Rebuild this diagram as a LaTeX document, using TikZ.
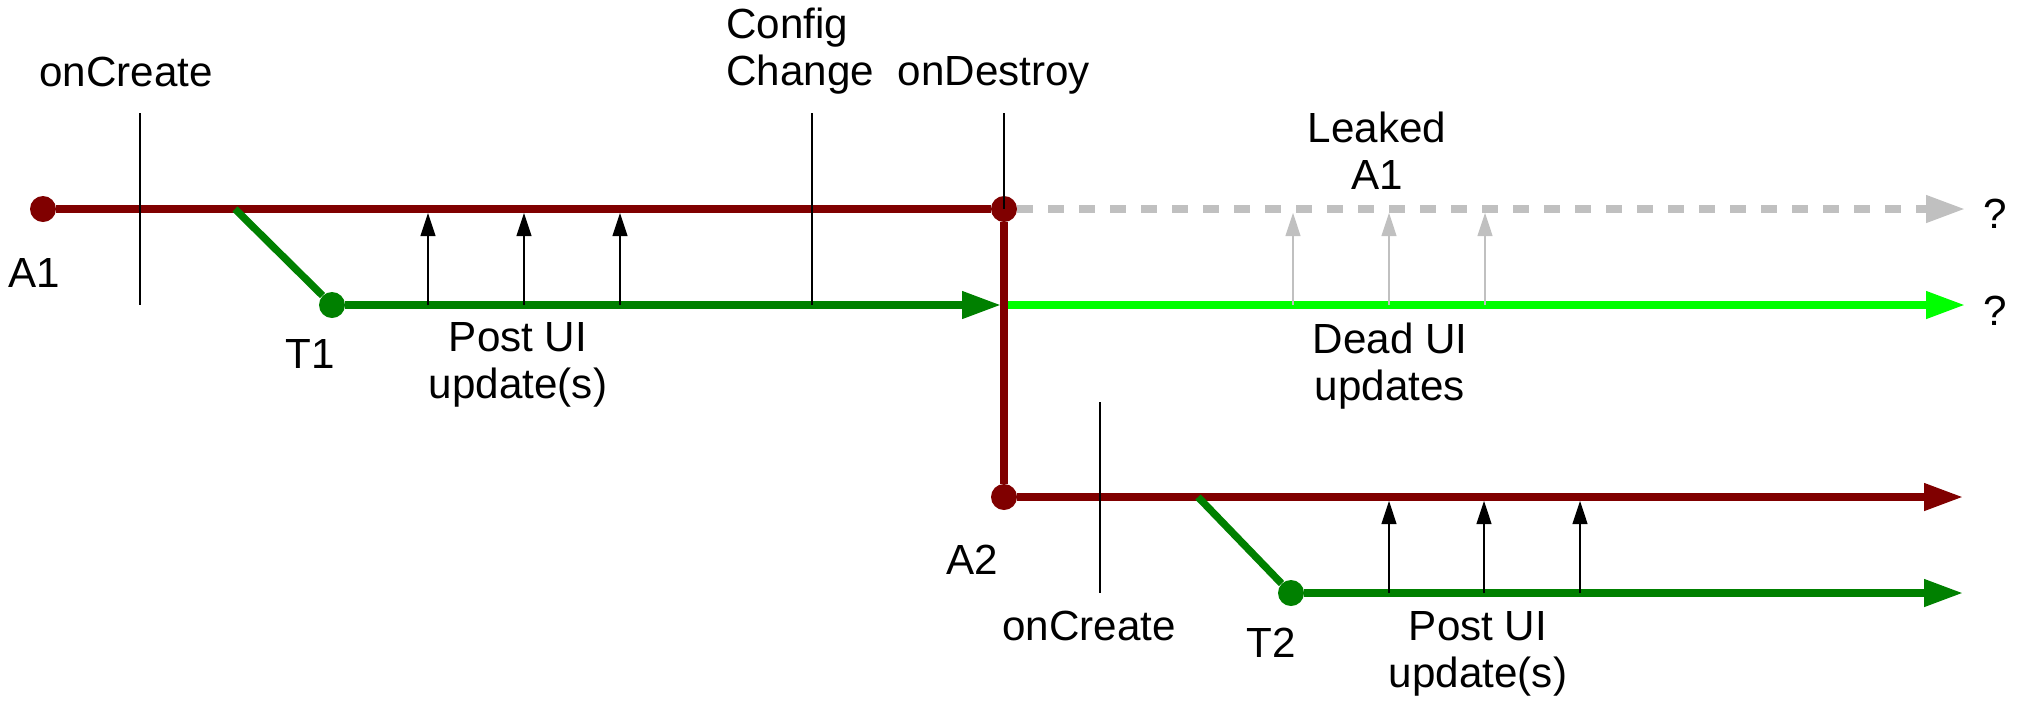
\documentclass[tikz,border=0pt]{standalone}
\usepackage{fontspec}
\setmainfont{Liberation Sans}
\usetikzlibrary{arrows.meta}
\definecolor{dred}{HTML}{800000}
\definecolor{dgreen}{HTML}{008000}
\definecolor{lgreen}{HTML}{00FF00}
\definecolor{lgray}{HTML}{C0C0C0}
\begin{document}
\begin{tikzpicture}[x=0.02cm,y=-0.02cm,
  lbl/.style={font=\fontsize{24}{26.7}\selectfont, inner sep=0, anchor=base, align=center},
  dot/.style={circle, fill=#1, minimum size=0.52cm, inner sep=0},
  thick line/.style={line width=4.2pt, draw=#1},
  bigtip/.style={-{Triangle[length=0.78cm,width=0.52cm]}},
  tick/.style={line width=0.6pt, draw=black},
  post/.style={line width=0.6pt, draw=#1, -{Triangle[length=0.46cm,width=0.3cm]}},
]
\useasboundingbox (0,0) rectangle (2020,701);

% thin vertical event markers
\coordinate (c1t) at (140,113); \coordinate (c1b) at (140,305);
\coordinate (cct) at (812,113); \coordinate (ccb) at (812,305);
\coordinate (dt) at (1004,113); \coordinate (db) at (1004,209);
\coordinate (c2t) at (1100,402); \coordinate (c2b) at (1100,593);

% dots
\node[dot=dred] (A1dot) at (43,209) {};
\node[dot=dred] (D1dot) at (1004,209) {};
\node[dot=dred] (A2dot) at (1004,497) {};
\node[dot=dgreen] (T1dot) at (332,305) {};
\node[dot=dgreen] (T2dot) at (1291,593) {};

% coordinates
\coordinate (fork1) at (235,209);
\coordinate (fork2) at (1198,497);
\coordinate (t1end) at (1001,305);
\coordinate (deadstart) at (1008,305);
\coordinate (deadend) at (1965,305);
\coordinate (leakend) at (1965,209);
\coordinate (a2end) at (1963,497);
\coordinate (t2end) at (1963,593);

% post arrows coordinates
\foreach \x/\n in {428/p1,524/p2,620/p3}{
  \coordinate (\n b) at (\x,305); \coordinate (\n t) at (\x,213);}
\foreach \x/\n in {1293/g1,1389/g2,1485/g3}{
  \coordinate (\n b) at (\x,305); \coordinate (\n t) at (\x,213);}
\foreach \x/\n in {1389/q1,1484/q2,1580/q3}{
  \coordinate (\n b) at (\x,593); \coordinate (\n t) at (\x,501);}

% main lines
\draw[thick line=dred] (A1dot) -- (D1dot);
\draw[thick line=lgray, dash pattern=on 0.32cm off 0.3cm, bigtip] (D1dot.east) -- (leakend);
\draw[thick line=dgreen] (fork1) -- (T1dot.north west);
\draw[thick line=dgreen, bigtip] (T1dot) -- (t1end);
\draw[thick line=lgreen, bigtip] (deadstart) -- (deadend);
\draw[thick line=dred] (D1dot) -- (A2dot);
\draw[thick line=dred, bigtip] (A2dot) -- (a2end);
\draw[thick line=dgreen] (fork2) -- (T2dot.north west);
\draw[thick line=dgreen, bigtip] (T2dot) -- (t2end);

% thin markers
\draw[tick] (c1t) -- (c1b);
\draw[tick] (cct) -- (ccb);
\draw[tick] (dt) -- (db);
\draw[tick] (c2t) -- (c2b);

% post arrows
\foreach \n in {p1,p2,p3,q1,q2,q3}{\draw[post=black] (\n b) -- (\n t);}
\foreach \n in {g1,g2,g3}{\draw[post=lgray] (\n b) -- (\n t);}

% labels (base anchor = baseline of last line)
\node[lbl] (lOnCreate1) at (126,86) {onCreate};
\node[lbl, align=left, anchor=base west] (lConfig) at (726,85) {Config\\Change};
\node[lbl] (lOnDestroy) at (994,85) {onDestroy};
\node[lbl] (lA1) at (34,287) {A1};
\node[lbl] (lT1) at (310,368) {T1};
\node[lbl] (lPost1) at (518,398) {Post UI\\update(s)};
\node[lbl] (lLeaked) at (1377,189) {Leaked\\A1};
\node[lbl] (lDead) at (1390,400) {Dead UI\\updates};
\node[lbl] (lQ1) at (1995,228) {?};
\node[lbl] (lQ2) at (1995,325) {?};
\node[lbl] (lA2) at (972,574) {A2};
\node[lbl] (lOnCreate2) at (1089,640) {onCreate};
\node[lbl] (lT2) at (1271,657) {T2};
\node[lbl] (lPost2) at (1478,687) {Post UI\\update(s)};
\end{tikzpicture}
\end{document}
